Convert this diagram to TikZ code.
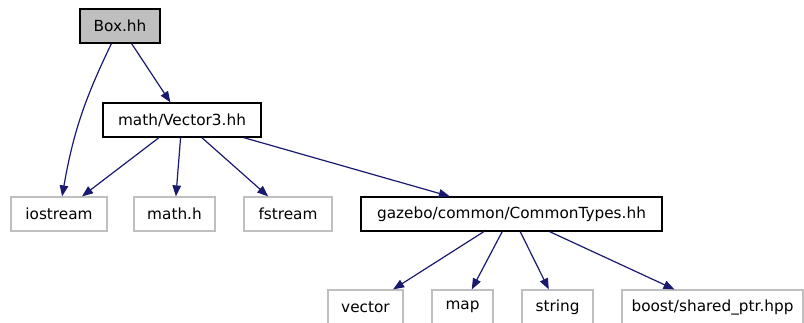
\documentclass[tikz,border=0pt]{standalone}
\usepackage{fontspec}
\setmainfont{DejaVu Sans}
\usepackage{xcolor}
\usepackage{tikz}
\usetikzlibrary{arrows.meta,positioning}
\definecolor{incblue}{HTML}{191970}
\definecolor{incgray}{HTML}{BFBFBF}

\begin{document}
\begin{tikzpicture}[
    x=1pt,y=1pt,
    fichier/.style = {rectangle, draw=black, line width=1.2pt, minimum height=34,
                      inner sep=0pt, font=\fontsize{15.3}{18}\selectfont},
    racine/.style  = {fichier, fill=incgray},
    externe/.style = {fichier, draw=incgray},
    dep/.style     = {incblue, line width=1.2pt, -{Triangle[length=11pt,width=8.5pt]}},
  ]
  \useasboundingbox (0,0) rectangle (804,-322);
  \clip (0,0) rectangle (804,-322);

  % ── Fichiers inclus ─────────────────────────────────────────────────────
  \node[racine,  minimum width=80]  (box)  at (120,-26)    {Box.hh};
  \node[fichier, minimum width=158] (vec)  at (182,-120)   {math/Vector3.hh};

  \node[externe, minimum width=96]  (io)   at (59,-214)    {iostream};
  \node[externe, minimum width=81]  (mth)  at (174.5,-214) {math.h};
  \node[externe, minimum width=88]  (fst)  at (288,-214)   {fstream};
  \node[fichier, minimum width=301] (ct)   at (511.5,-214) {gazebo/common/CommonTypes.hh};

  \node[externe, minimum width=75]  (vct)  at (365.5,-307) {vector};
  \node[externe, minimum width=61]  (map)  at (462.5,-307) {map};
  \node[externe, minimum width=71]  (str)  at (557.5,-307) {string};
  \node[externe, minimum width=181] (bst)  at (712.5,-307) {boost/shared\_ptr.hpp};

  % ── Dépendances ─────────────────────────────────────────────────────────
  \draw[dep] (box) to[bend right=8] (io);
  \draw[dep] (box) -- (vec);

  \foreach \c in {io,mth,fst,ct}
    \draw[dep] (vec) -- (\c);

  \foreach \c in {vct,map,str,bst}
    \draw[dep] (ct) -- (\c);

\end{tikzpicture}
\end{document}
